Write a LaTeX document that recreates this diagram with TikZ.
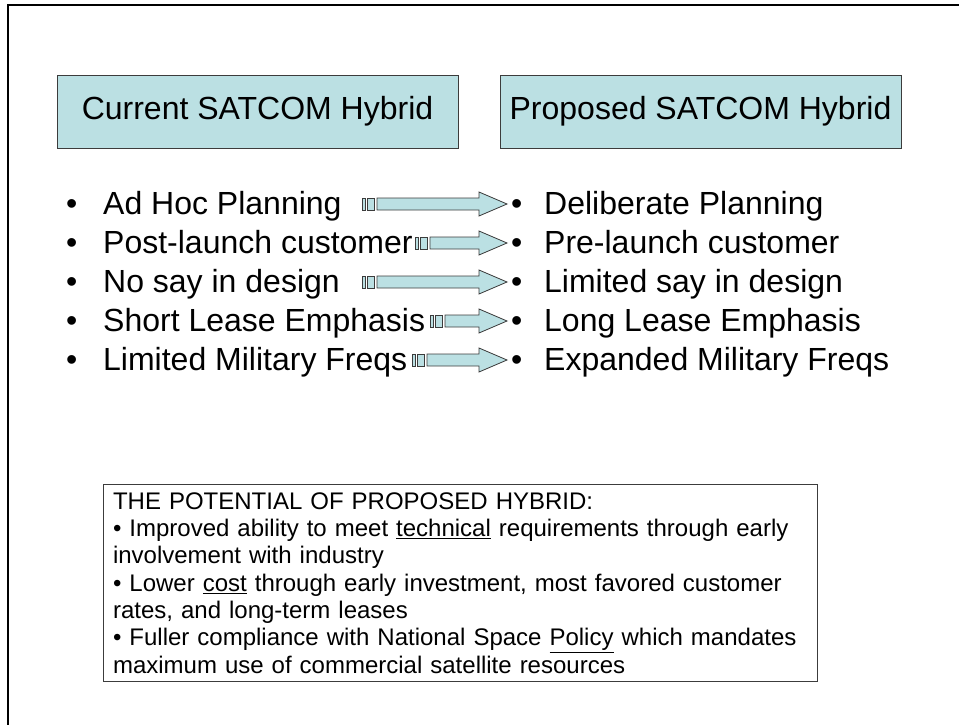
\documentclass[tikz,border=0pt]{standalone}
\usepackage{fontspec}
\setmainfont{Liberation Sans}
\usetikzlibrary{calc}
\definecolor{boxfill}{RGB}{187,224,227}
\definecolor{boxline}{RGB}{60,60,60}
\tikzset{
  head/.style = {draw = boxline, fill = boxfill, line width = 0.9pt, minimum width = 401pt, minimum height = 73pt, font = \fontsize{32}{38}\selectfont},
  item/.style = {anchor = base west, inner sep = 0pt, font = \fontsize{32}{38}\selectfont},
  arrowpart/.style = {draw = boxline, fill = boxfill, line width = 0.8pt},
  note/.style = {draw = boxline, line width = 0.9pt, anchor = north west, align = left, text width = 695pt, inner xsep = 9.6pt, inner ysep = 8pt, font = \fontsize{24}{27.3}\selectfont}
}
\newcommand{\striparrow}[2]{%
  \draw[arrowpart] ($(#1)+(0,-6)$) rectangle ($(#1)+(3,6)$);
  \draw[arrowpart] ($(#1)+(5,-6)$) rectangle ($(#1)+(12,6)$);
  \draw[arrowpart] ($(#1)+(15,-6)$) -- ($(#2)+(-28,-6)$) -- ($(#2)+(-28,-12)$) -- (#2) -- ($(#2)+(-28,12)$) -- ($(#2)+(-28,6)$) -- ($(#1)+(15,6)$) -- cycle;
}
\newcommand{\bul}{\makebox[37pt][l]{•}}
\newcommand{\bulr}{\makebox[33pt][l]{•}}
\begin{document}
\begin{tikzpicture}[x = 1pt, y = -1pt]
        \useasboundingbox (0, 0) rectangle (959, 725);
        \draw[line width = 2pt] (8, 725) -- (8, 5) -- (959, 5);
        \node[head] (h0) at (257.5, 111.5) {Current SATCOM Hybrid};
        \node[head] (h1) at (700.5, 111.5) {Proposed SATCOM Hybrid};
        \node[item] (c0) at (66, 214) {\bul Ad Hoc Planning};
        \node[item] (c1) at (66, 253) {\bul Post-launch customer};
        \node[item] (c2) at (66, 292) {\bul No say in design};
        \node[item] (c3) at (66, 331) {\bul Short Lease Emphasis};
        \node[item] (c4) at (66, 370) {\bul Limited Military Freqs};
        \node[item] (p0) at (511, 214) {\bulr Deliberate Planning};
        \node[item] (p1) at (511, 253) {\bulr Pre-launch customer};
        \node[item] (p2) at (511, 292) {\bulr Limited say in design};
        \node[item] (p3) at (511, 331) {\bulr Long Lease Emphasis};
        \node[item] (p4) at (511, 370) {\bulr Expanded Military Freqs};
        \coordinate (a0) at (362, 204);
        \coordinate (b0) at (507, 204);
        \coordinate (a1) at (415, 243);
        \coordinate (b1) at (507, 243);
        \coordinate (a2) at (362, 282);
        \coordinate (b2) at (507, 282);
        \coordinate (a3) at (430, 321);
        \coordinate (b3) at (507, 321);
        \coordinate (a4) at (412, 360);
        \coordinate (b4) at (507, 360);
        \striparrow{a0}{b0}
        \striparrow{a1}{b1}
        \striparrow{a2}{b2}
        \striparrow{a3}{b3}
        \striparrow{a4}{b4}
        \node[note] (pot) at (103, 484) {THE POTENTIAL OF PROPOSED HYBRID:\\
        • Improved ability to meet \underline{technical} requirements through early\\
        involvement with industry\\
        • Lower \underline{cost} through early investment, most favored customer\\
        rates, and long-term leases\\
        • Fuller compliance with National Space \underline{Policy} which mandates\\
        maximum use of commercial satellite resources};
\end{tikzpicture}
\end{document}
